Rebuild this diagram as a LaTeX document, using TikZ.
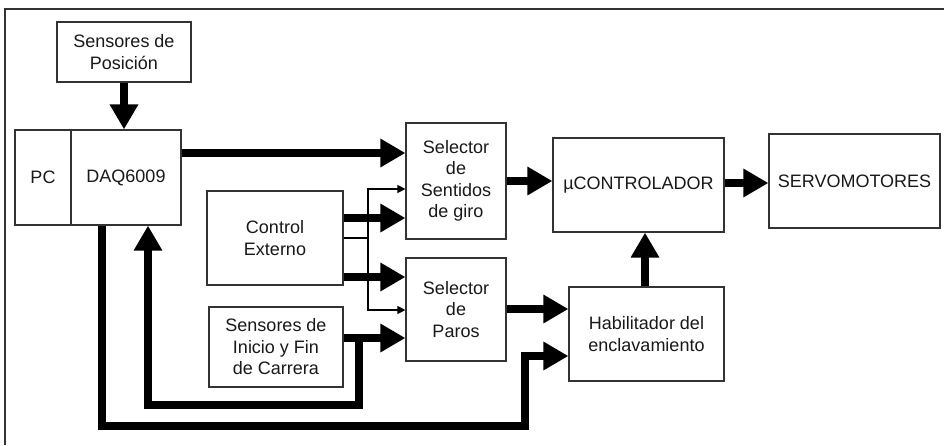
\documentclass[tikz,border=0pt]{standalone}
\usepackage{fontspec}
\setmainfont{Liberation Sans}
\usetikzlibrary{arrows.meta}
\tikzset{
  box/.style={draw=black!80, line width=1.2pt, fill=white, inner sep=0pt, align=center,
    font=\fontsize{18}{21.5}\selectfont, text=black!90},
  big/.style={line width=8.5pt, -{Triangle[width=27pt,length=25pt]}},
  thin/.style={line width=1.2pt, -{Triangle[width=8pt,length=8pt]}},
  thinline/.style={line width=1.2pt},
  frame/.style={line width=1.2pt, draw=black!80}
}
\begin{document}
\begin{tikzpicture}[x=1pt,y=-1pt]
\useasboundingbox (0,0) rectangle (944,445);
\draw[frame] (5,445) -- (5,9) -- (944,9);

\node[box, minimum width=134pt, minimum height=60pt] (senpos) at (124,52) {Sensores de\\Posición};
\node[box, minimum width=56pt, minimum height=95pt] (pc) at (43,177.5) {PC};
\node[box, minimum width=110pt, minimum height=95pt] (daq) at (126,177.5) {DAQ6009};
\node[box, minimum width=136pt, minimum height=94pt] (ctrl) at (275,238) {Control\\Externo};
\node[box, minimum width=134pt, minimum height=80pt] (sinicio) at (276,347) {Sensores de\\Inicio y Fin\\de Carrera};
\node[box, minimum width=100pt, minimum height=116pt] (sent) at (456,181) {Selector\\de\\Sentidos\\de giro};
\node[box, minimum width=100pt, minimum height=103pt] (paros) at (456,309.5) {Selector\\de\\Paros};
\node[box, minimum width=171pt, minimum height=94pt] (uc) at (638.5,185) {µCONTROLADOR};
\node[box, minimum width=171pt, minimum height=94pt] (servo) at (854.5,181) {SERVOMOTORES};
\node[box, minimum width=155pt, minimum height=94pt] (hab) at (646.5,334) {Habilitador del\\enclavamiento};

\coordinate (j1) at (359,338);
\coordinate (j2) at (368,238);

% thick connectors
\draw[big] (senpos.south) -- (senpos.south |- daq.north);
\draw[big] (daq.east |- 0,153) -- (sent.west |- 0,153);
\draw[big] (ctrl.east |- 0,218) -- (sent.west |- 0,218);
\draw[big] (ctrl.east |- 0,277) -- (paros.west |- 0,277);
\draw[big] (sinicio.east |- j1) -- (paros.west |- j1);
\draw[big] (j1) -- (359,405) -- (148,405) -- (daq.south -| 148,0);
\draw[big] (daq.south -| 102,0) -- (102,426) -- (525,426) -- (525,356) -- (hab.west |- 0,356);
\draw[big] (sent.east |- 0,181) -- (uc.west |- 0,181);
\draw[big] (paros.east |- 0,309) -- (hab.west |- 0,309);
\draw[big] (hab.north -| 645,0) -- (uc.south -| 645,0);
\draw[big] (uc.east |- 0,183) -- (servo.west |- 0,183);

% thin connectors
\draw[thin] (ctrl.east |- j2) -- (j2) -- (368,189) -- (sent.west |- 0,189);
\draw[thin] (j2) -- (368,310) -- (paros.west |- 0,310);
\end{tikzpicture}
\end{document}
